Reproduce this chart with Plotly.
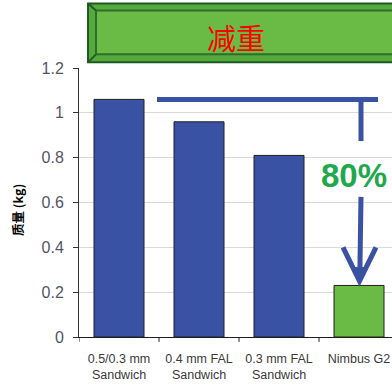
import plotly.graph_objects as go

# Mass of each panel design (kg)
categories = ["0.5/0.3 mm<br>Sandwich", "0.4 mm FAL<br>Sandwich", "0.3 mm FAL<br>Sandwich", "Nimbus G2"]
mass_kg = [1.06, 0.96, 0.81, 0.23]
bar_colors = ["#3A52A3", "#3A52A3", "#3A52A3", "#6ABB45"]
reduction_label = "80%"
banner_title = "减重"
y_title = "质量 (kg)"
y_ticks = [0, 0.2, 0.4, 0.6, 0.8, 1.0, 1.2]
y_ticktext = ["0", "0.2", "0.4", "0.6", "0.8", "1", "1.2"]

BLUE = "#3A52A3"
GREEN_TXT = "#20A84C"

fig = go.Figure()
fig.add_trace(go.Bar(
    x=list(range(len(categories))),
    y=mass_kg,
    width=0.625,
    marker=dict(color=bar_colors, line=dict(color="#1E1E1E", width=1)),
    hoverinfo="skip",
))

ref = mass_kg[0]
shapes = []
# Horizontal reference line at the heaviest design
shapes.append(dict(type="line", xref="x", yref="y", x0=0.475, x1=3.2375, y0=ref, y1=ref,
                   line=dict(color=BLUE, width=5)))
# Drop from the reference line toward the percentage label
shapes.append(dict(type="line", xref="x", yref="y", x0=3.025, x1=3.025, y0=ref, y1=0.874,
                   line=dict(color=BLUE, width=5)))
# Arrow shaft and head pointing at the lightest design
shapes.append(dict(type="line", xref="x", yref="y", x0=3.025, x1=3.01, y0=0.625, y1=0.27,
                   line=dict(color=BLUE, width=5)))
shapes.append(dict(type="path", xref="x", yref="y",
                   path="M 2.80,0.40 L 3.006,0.25 L 3.2125,0.40",
                   line=dict(color=BLUE, width=5)))
shapes.append(dict(type="path", xref="x", yref="y",
                   path="M 2.93,0.31 L 3.006,0.248 L 3.08,0.31 Z",
                   fillcolor=BLUE, line=dict(color=BLUE, width=1)))

# Bevelled green banner above the plot
shapes.append(dict(type="rect", xref="paper", yref="paper", x0=0.0288, x1=1.05, y0=1.021, y1=1.240,
                   fillcolor="#55A93D", line=dict(color="#1F5A25", width=2), layer="above"))
shapes.append(dict(type="rect", xref="paper", yref="paper", x0=0.0543, x1=1.05, y0=1.0508, y1=1.2141,
                   fillcolor="#6ABB45", line=dict(color="#2E6E2B", width=2), layer="above"))
shapes.append(dict(type="line", xref="paper", yref="paper", x0=0.0288, x1=0.0543, y0=1.240, y1=1.2141,
                   line=dict(color="#1F5A25", width=2), layer="above"))
shapes.append(dict(type="line", xref="paper", yref="paper", x0=0.0288, x1=0.0543, y0=1.021, y1=1.0508,
                   line=dict(color="#1F5A25", width=2), layer="above"))

annotations = [
    dict(x=2.5, y=0.722, xref="x", yref="y", text="<b>" + reduction_label + "</b>", showarrow=False,
         xanchor="left", yanchor="middle",
         font=dict(family="Liberation Sans, Arial, sans-serif", size=33, color=GREEN_TXT)),
    dict(x=(236 - 79) / 313, y=(337.3 - 37) / 269.6, xref="paper", yref="paper", text=banner_title,
         showarrow=False, xanchor="center", yanchor="middle",
         font=dict(family="Noto Sans CJK SC", size=29, color="#FF0000")),
    dict(x=(18 - 79) / 313, y=(337.3 - 210) / 269.6, xref="paper", yref="paper", text="<b>" + y_title + "</b>",
         showarrow=False, textangle=-90, xanchor="center", yanchor="middle",
         font=dict(family="Noto Sans CJK SC, Liberation Sans, sans-serif", size=12.5, color="#000000")),
]

fig.update_layout(
    width=392, height=385,
    margin=dict(l=79, r=0, t=68, b=48, pad=0),
    paper_bgcolor="white", plot_bgcolor="white",
    showlegend=False,
    shapes=shapes,
    annotations=annotations,
    xaxis=dict(
        range=[-0.5, 3.4125],
        tickmode="array", tickvals=list(range(len(categories))), ticktext=categories,
        showgrid=False, zeroline=False,
        showline=True, linecolor="#1E1E1E", linewidth=1,
        ticks="",
        ticklabelstandoff=10,
        tickfont=dict(family="Liberation Sans, Arial, sans-serif", size=12.5, color="#3A3A3A"),
        fixedrange=True,
    ),
    yaxis=dict(
        range=[0, 1.2],
        tickmode="array", tickvals=y_ticks, ticktext=y_ticktext,
        showgrid=True, gridcolor="#D9D9D9", gridwidth=1,
        zeroline=False,
        showline=True, linecolor="#333333", linewidth=1,
        ticks="outside", ticklen=5, tickcolor="#333333",
        ticklabelstandoff=6,
        tickfont=dict(family="Liberation Sans, Arial, sans-serif", size=16, color="#545466"),
        fixedrange=True,
    ),
)

# Category boundary ticks on the x axis
for b in [-0.5, 0.5, 1.5, 2.5]:
    fig.add_shape(type="line", xref="x", yref="paper", x0=b, x1=b, y0=0, y1=-0.018,
                  line=dict(color="#1E1E1E", width=1))

fig.write_html("out.html")
